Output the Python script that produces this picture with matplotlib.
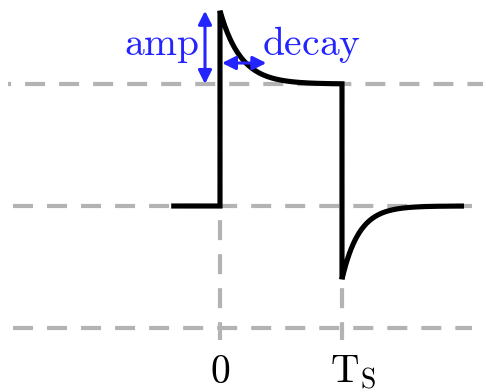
import numpy as np
import matplotlib.pyplot as plt

plt.rcParams['mathtext.fontset'] = 'cm'
plt.rcParams['lines.scale_dashes'] = False

# signal parameters (time in units of Ts)
t_start, t_end = -0.4, 2.0
t_edges = [0.0, 1.0]          # rising edge at 0, falling edge at Ts
high_level = 1.0
low_level = 0.0
amp = 0.6
tau_rise = 0.17
tau_fall = 0.14

# dashed guide lines
guide_levels = [1.0, 0.0, -1.0]
tick_positions = [0.0, 1.0]
tick_labels = [r'$\mathrm{0}$', r'$\mathrm{T_S}$']

blue = '#2424ff'
gray = '#b3b3b3'
dash = (14.4, 10.1)


def main():
    fig = plt.figure(figsize=(4.83, 3.92), dpi=100)
    ax = fig.add_axes([0, 0, 1, 1])
    ax.set_xlim(-220 / 122, 263 / 122)
    ax.set_ylim(-186 / 122, 206 / 122)
    ax.axis('off')

    # horizontal guides
    ax.plot([-1.738, 2.2], [guide_levels[0]] * 2, color=gray, lw=3,
            linestyle=(12.2, dash))
    for lvl in guide_levels[1:]:
        ax.plot([-1.697, 2.066], [lvl, lvl], color=gray, lw=3,
                linestyle=(0, dash))
    # vertical guides at the edges
    for tp in tick_positions:
        ax.plot([tp, tp], [guide_levels[0], -1.1], color=gray, lw=3,
                linestyle=(0, dash))

    # build the pulse with overshoot on both edges
    t0, t1 = t_edges
    rise = np.linspace(t0, t1, 200)
    fall = np.linspace(t1, t_end, 200)
    t = np.concatenate([[t_start, t0], rise, fall])
    y = np.concatenate([
        [low_level, low_level],
        high_level + amp * np.exp(-(rise - t0) / tau_rise),
        low_level - amp * np.exp(-(fall - t1) / tau_fall),
    ])
    ax.plot(t, y, color='black', lw=3.7, solid_joinstyle='miter',
            solid_capstyle='butt', zorder=3)

    # annotation arrows
    arrow = dict(arrowstyle='<|-|>', color=blue, lw=2.2,
                 mutation_scale=20, shrinkA=0, shrinkB=0)
    ax.annotate('', xy=(-0.123, high_level + amp), xytext=(-0.123, high_level),
                arrowprops=arrow, zorder=4)
    ax.annotate('', xy=(0.016, 1.172), xytext=(0.38, 1.172),
                arrowprops=arrow, zorder=4)
    ax.text(-0.17, 1.238, r'$\mathrm{amp}$', color=blue, fontsize=28.5,
            ha='right', va='baseline')
    ax.text(0.344, 1.238, r'$\mathrm{decay}$', color=blue, fontsize=28.5,
            ha='left', va='baseline')

    # tick labels under the guides
    ax.text(tick_positions[0], -1.451, tick_labels[0], fontsize=28.5,
            ha='center', va='baseline')
    ax.text(tick_positions[1] - 0.098, -1.451, tick_labels[1], fontsize=28.5,
            ha='left', va='baseline')

    fig.savefig('out.png', dpi=100)


main()
